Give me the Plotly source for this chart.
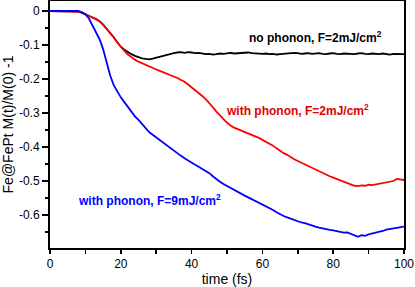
import plotly.graph_objects as go

time_fs = list(range(0, 101))

no_phonon_2 = [
    0, 0, 0, 0, 0, 0, 0, 0, -0.002, -0.005,
    -0.009, -0.014, -0.019, -0.024, -0.030, -0.040, -0.052, -0.064, -0.077, -0.092,
    -0.105, -0.114, -0.121, -0.127, -0.132, -0.136, -0.139, -0.141, -0.142, -0.140,
    -0.137, -0.134, -0.131, -0.128, -0.126, -0.124, -0.122, -0.121, -0.123, -0.121,
    -0.122, -0.124, -0.123, -0.125, -0.127, -0.126, -0.128, -0.127, -0.125, -0.126,
    -0.124, -0.123, -0.125, -0.124, -0.122, -0.123, -0.122, -0.124, -0.125, -0.124,
    -0.126, -0.125, -0.127, -0.126, -0.128, -0.127, -0.126, -0.124, -0.125, -0.123,
    -0.124, -0.126, -0.125, -0.124, -0.126, -0.125, -0.124, -0.126, -0.127, -0.125,
    -0.124, -0.126, -0.127, -0.125, -0.126, -0.128, -0.127, -0.125, -0.124, -0.126,
    -0.127, -0.125, -0.126, -0.127, -0.125, -0.126, -0.128, -0.126, -0.127, -0.126,
    -0.127,
]

phonon_2 = [
    0, 0, 0, 0, 0, 0, 0, 0, -0.002, -0.005,
    -0.009, -0.014, -0.019, -0.024, -0.030, -0.040, -0.052, -0.064, -0.077, -0.092,
    -0.106, -0.117, -0.128, -0.136, -0.143, -0.149, -0.154, -0.159, -0.164, -0.168,
    -0.172, -0.176, -0.180, -0.185, -0.189, -0.193, -0.197, -0.203, -0.208, -0.216,
    -0.224, -0.232, -0.241, -0.250, -0.259, -0.270, -0.283, -0.296, -0.308, -0.318,
    -0.328, -0.337, -0.343, -0.347, -0.351, -0.355, -0.359, -0.363, -0.368, -0.373,
    -0.379, -0.384, -0.389, -0.396, -0.404, -0.412, -0.418, -0.423, -0.430, -0.436,
    -0.441, -0.446, -0.451, -0.457, -0.463, -0.468, -0.472, -0.476, -0.481, -0.486,
    -0.490, -0.494, -0.498, -0.502, -0.507, -0.511, -0.514, -0.515, -0.513, -0.514,
    -0.511, -0.512, -0.510, -0.508, -0.508, -0.505, -0.504, -0.500, -0.494, -0.496,
    -0.497,
]

phonon_9 = [
    0, 0, 0, 0, 0, 0, 0, 0, 0, -0.004,
    -0.010, -0.022, -0.042, -0.062, -0.083, -0.112, -0.152, -0.190, -0.218, -0.238,
    -0.254, -0.268, -0.283, -0.298, -0.310, -0.320, -0.333, -0.346, -0.356, -0.364,
    -0.372, -0.380, -0.388, -0.395, -0.403, -0.411, -0.418, -0.426, -0.433, -0.440,
    -0.447, -0.452, -0.458, -0.464, -0.469, -0.477, -0.486, -0.495, -0.502, -0.509,
    -0.515, -0.521, -0.527, -0.533, -0.538, -0.543, -0.548, -0.553, -0.558, -0.563,
    -0.569, -0.575, -0.580, -0.585, -0.592, -0.598, -0.603, -0.607, -0.611, -0.615,
    -0.619, -0.622, -0.624, -0.628, -0.631, -0.634, -0.637, -0.640, -0.642, -0.644,
    -0.645, -0.648, -0.649, -0.652, -0.651, -0.656, -0.660, -0.664, -0.659, -0.661,
    -0.657, -0.655, -0.652, -0.649, -0.647, -0.643, -0.641, -0.638, -0.636, -0.635,
    -0.634,
]

x_tick_vals = [0, 20, 40, 60, 80, 100]
x_tick_text = ["0", "20", "40", "60", "80", "100"]
y_tick_vals = [0, -0.1, -0.2, -0.3, -0.4, -0.5, -0.6]
y_tick_text = ["0", "-0.1", "-0.2", "-0.3", "-0.4", "-0.5", "-0.6"]

labels = ["no phonon, F=2mJ/cm<sup>2</sup>",
          "with phonon, F=2mJ/cm<sup>2</sup>",
          "with phonon, F=9mJ/cm<sup>2</sup>"]
label_x = [75.1, 69.8, 28.0]
label_y = [-0.076, -0.291, -0.556]
colors = ["#000000", "#ff0000", "#0000ff"]
text_colors = ["#000000", "#e00000", "#0000ff"]

series = [no_phonon_2, phonon_2, phonon_9]

fig = go.Figure()
for ys, c in zip(series, colors):
    fig.add_trace(go.Scatter(x=time_fs, y=ys, mode="lines",
                             line=dict(color=c, width=1.8), showlegend=False))

for txt, lx, ly, tc in zip(labels, label_x, label_y, text_colors):
    fig.add_annotation(x=lx, y=ly, text="<b>" + txt + "</b>", showarrow=False,
                       font=dict(family="Liberation Sans, Arial", size=12, color=tc),
                       xanchor="center", yanchor="middle")

fig.update_layout(
    width=415, height=287,
    margin=dict(l=50, r=11, t=1, b=39, autoexpand=False),
    paper_bgcolor="white", plot_bgcolor="white",
    font=dict(family="Liberation Sans, Arial", size=12, color="black"),
)
fig.update_xaxes(
    range=[0, 100], tickmode="array", tickvals=x_tick_vals, ticktext=x_tick_text,
    ticks="outside", ticklen=4, tickwidth=1.5, tickcolor="black",
    minor=dict(dtick=10, tick0=0, ticks="outside", ticklen=4, tickwidth=1.5, tickcolor="black"),
    showline=True, linewidth=2, linecolor="black", mirror=True,
    showgrid=False, zeroline=False, automargin=False,
    title=dict(text="time (fs)", font=dict(size=14)),
    tickfont=dict(size=12),
)
fig.update_yaxes(
    range=[-0.697, 0.0294], tickmode="array", tickvals=y_tick_vals, ticktext=y_tick_text,
    ticks="outside", ticklen=6, tickwidth=1.5, tickcolor="black",
    minor=dict(dtick=0.05, tick0=0, ticks="outside", ticklen=3, tickwidth=1.5, tickcolor="black"),
    showline=True, linewidth=2, linecolor="black", mirror=True,
    showgrid=False, zeroline=False, automargin=False,
    title=dict(text="Fe@FePt M(t)/M(0) -1", font=dict(size=14)),
    tickfont=dict(size=12),
)

fig.write_html(
    "out.html",
    config={"displayModeBar": False, "staticPlot": True},
    post_script="document.body.style.margin='0';document.body.style.overflow='hidden';",
)
